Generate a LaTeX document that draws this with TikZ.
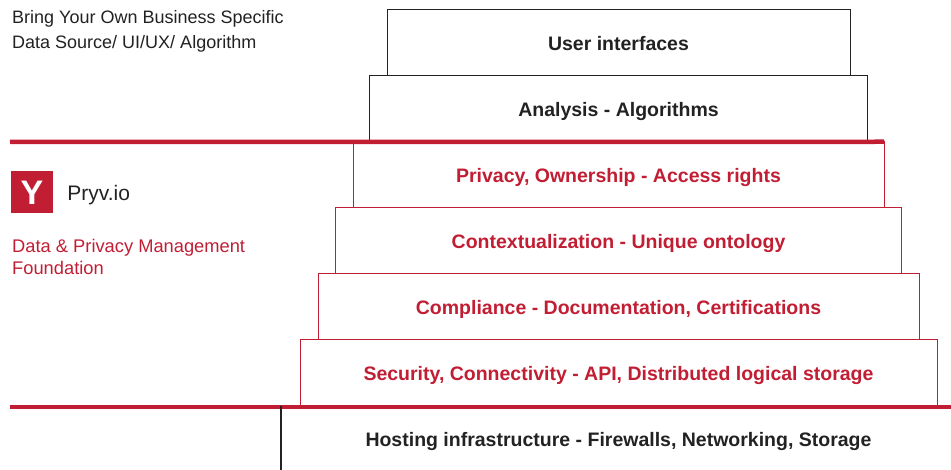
\documentclass[tikz,border=0pt]{standalone}
\usepackage{fontspec}
\setmainfont{Liberation Sans}
\usetikzlibrary{positioning}
\definecolor{pryvred}{RGB}{193,30,52}
\definecolor{inkgray}{RGB}{34,34,34}
\tikzstyle{layer} = [rectangle, minimum height=66pt, text centered, text height=18pt, text depth=2pt, draw=inkgray, line width=1pt, inner sep=0pt, outer sep=0pt, text=inkgray, font=\fontsize{19.5}{22}\selectfont\bfseries]
\tikzstyle{pryvlayer} = [layer, draw=pryvred, text=pryvred]
\tikzstyle{redrule} = [pryvred, line width=4.5pt]

\begin{document}
\begin{tikzpicture}[x=1pt, y=-1pt]
\useasboundingbox (0,0) rectangle (951,470);

% Livelli della pila, dall'alto verso il basso
\node (user_interfaces) [layer, minimum width=463pt] at (618.5,42.75) {User interfaces};
\node (analysis) [layer, minimum width=498pt, below=0pt of user_interfaces] {Analysis - Algorithms};
\node (privacy) [pryvlayer, minimum width=531pt, below=0pt of analysis] {Privacy, Ownership - Access rights};
\node (contextualization) [pryvlayer, minimum width=566pt, below=0pt of privacy] {Contextualization - Unique ontology};
\node (compliance) [pryvlayer, minimum width=601pt, below=0pt of contextualization] {Compliance - Documentation, Certifications};
\node (security) [pryvlayer, minimum width=637pt, below=0pt of compliance] {Security, Connectivity - API, Distributed logical storage};
\node (hosting) [layer, draw=none, minimum width=637pt, below=0pt of security] {Hosting infrastructure - Firewalls, Networking, Storage};

% Testi a sinistra
\node (byo) [anchor=north west, align=left, inner sep=0pt, text=inkgray, font=\fontsize{18}{25}\selectfont] at (12,10) {Bring Your Own Business Specific\\Data Source/ UI/UX/ Algorithm};
\node (logo) [rectangle, fill=pryvred, minimum size=42pt, inner sep=0pt, text=white, font=\fontsize{34}{34}\selectfont\bfseries] at (32,192.5) {Y};
\node (pryv) [anchor=west, inner sep=0pt, text=inkgray, font=\fontsize{21}{24}\selectfont, right=14pt of logo, yshift=-2.5pt] {Pryv.io};
\node (foundation) [anchor=north west, align=left, inner sep=0pt, text=pryvred, font=\fontsize{18.3}{22}\selectfont] at (12,239) {Data \& Privacy Management\\Foundation};

% Linee rosse e bordo dell'hosting
\coordinate (top_rule_start) at (10,142);
\coordinate (bottom_rule_start) at (10,407);
\coordinate (bottom_rule_end) at (951,407);
\coordinate (hosting_edge) at (281,470);
\draw [redrule] (top_rule_start) -- (privacy.north east);
\draw [redrule] (bottom_rule_start) -- (bottom_rule_end);
\draw [inkgray, line width=1.2pt] (hosting_edge |- security.south) -- (hosting_edge);

\end{tikzpicture}
\end{document}
